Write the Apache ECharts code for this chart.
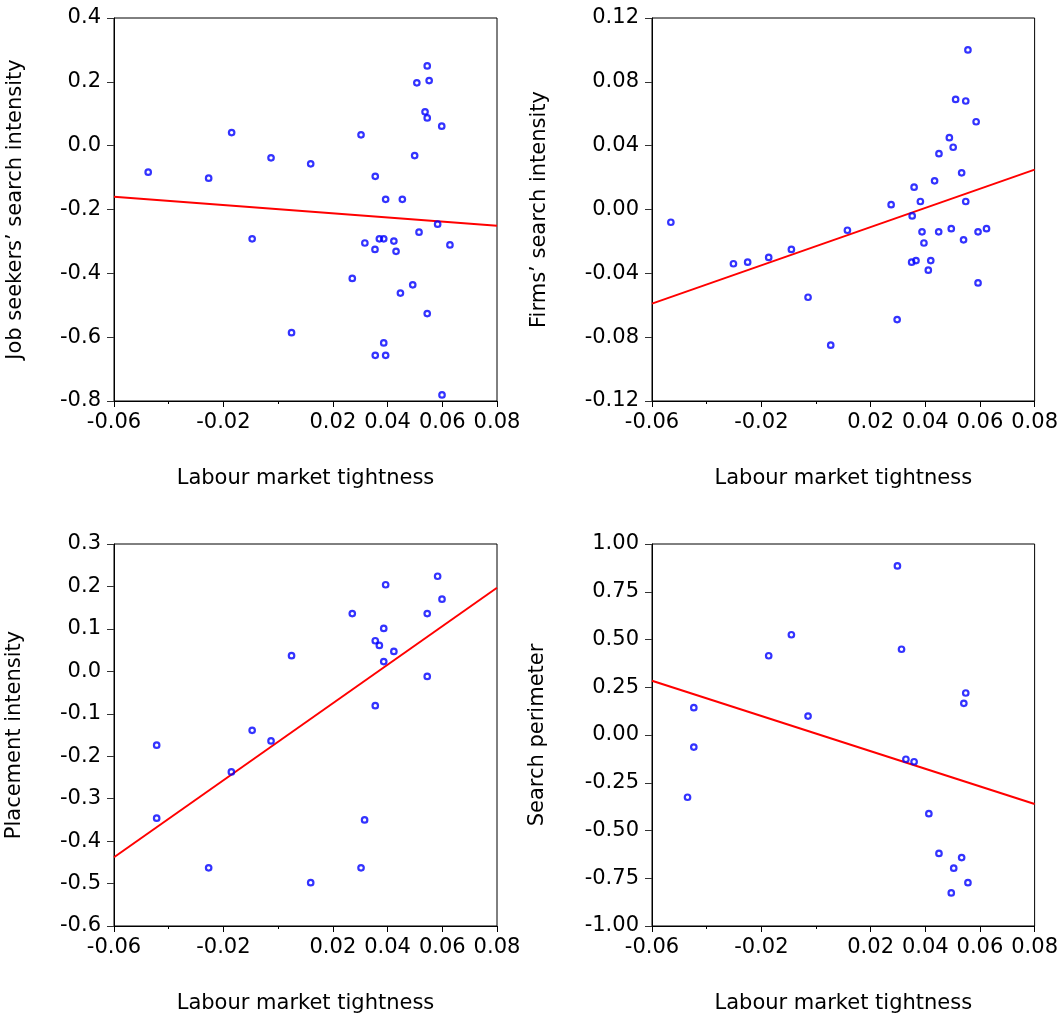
<!DOCTYPE html>
<html>
<head>
<meta charset="utf-8">
<script src="https://cdn.jsdelivr.net/npm/echarts@6/dist/echarts.min.js"></script>
<style>
html,body{margin:0;padding:0;background:#fff;}
#chart{width:1061px;height:1020px;}
</style>
</head>
<body>
<div id="chart"></div>
<script>
// ---- data ----
const xTickLabels = [-0.06, -0.02, 0.02, 0.04, 0.06, 0.08];
const xMinorTicks = [-0.04, 0.00];
const xAxisTitle = 'Labour market tightness';

const tlYTicks = [-0.8, -0.6, -0.4, -0.2, 0.0, 0.2, 0.4];
const trYTicks = [-0.12, -0.08, -0.04, 0.00, 0.04, 0.08, 0.12];
const blYTicks = [-0.6, -0.5, -0.4, -0.3, -0.2, -0.1, 0.0, 0.1, 0.2, 0.3];
const brYTicks = [-1.00, -0.75, -0.50, -0.25, 0.00, 0.25, 0.50, 0.75, 1.00];

const tlTitle = 'Job seekers’ search intensity';
const trTitle = 'Firms’ search intensity';
const blTitle = 'Placement intensity';
const brTitle = 'Search perimeter';

const tlX = [-0.0475,-0.0254,-0.0170,-0.0026,0.0119,0.0303,0.0355,0.0393,0.0454,0.0499,0.0507,0.0545,0.0552,0.0537,0.0545,0.0598,-0.0095,0.0583,0.0515,0.0317,0.0370,0.0386,0.0354,0.0423,0.0431,0.0628,0.0271,0.0492,0.0447,0.0545,0.0049,0.0386,0.0355,0.0393,0.0599];
const tlY = [-0.083,-0.102,0.041,-0.038,-0.057,0.034,-0.096,-0.168,-0.168,-0.031,0.197,0.250,0.204,0.106,0.087,0.061,-0.292,-0.246,-0.271,-0.305,-0.292,-0.292,-0.325,-0.299,-0.331,-0.311,-0.416,-0.436,-0.462,-0.526,-0.586,-0.618,-0.657,-0.657,-0.781];

const trX = [0.0556,0.0511,0.0548,0.0586,0.0488,0.0502,0.0450,0.0533,0.0434,0.0359,0.0382,0.0548,0.0275,0.0352,-0.0531,0.0115,-0.0090,-0.0173,-0.0250,-0.0302,0.0388,0.0449,0.0495,0.0540,0.0593,0.0624,0.0395,0.0350,0.0366,0.0420,0.0411,0.0593,-0.0029,0.0297,0.0054];
const trY = [0.100,0.069,0.068,0.055,0.045,0.039,0.035,0.023,0.018,0.014,0.005,0.005,0.003,-0.004,-0.008,-0.013,-0.025,-0.030,-0.033,-0.034,-0.014,-0.014,-0.012,-0.019,-0.014,-0.012,-0.021,-0.033,-0.032,-0.032,-0.038,-0.046,-0.055,-0.069,-0.085];

const blX = [0.0583,0.0393,0.0599,0.0271,0.0545,0.0386,0.0355,0.0370,0.0423,0.0049,0.0386,0.0545,0.0355,-0.0095,-0.0026,-0.0444,-0.0171,-0.0444,0.0316,-0.0254,0.0303,0.0119];
const blY = [0.224,0.204,0.170,0.136,0.136,0.101,0.072,0.061,0.047,0.037,0.023,-0.012,-0.081,-0.139,-0.164,-0.174,-0.237,-0.346,-0.350,-0.463,-0.463,-0.498];

const brX = [0.0298,-0.0090,0.0313,-0.0173,0.0548,0.0541,-0.0447,-0.0029,-0.0447,-0.0470,0.0329,0.0359,0.0413,0.0450,0.0533,0.0504,0.0556,0.0495];
const brY = [0.885,0.525,0.449,0.415,0.220,0.166,0.143,0.099,-0.063,-0.326,-0.127,-0.140,-0.412,-0.620,-0.642,-0.697,-0.773,-0.827];

// fitted regression lines (endpoints at x = -0.06 and x = 0.08)
const tlFitX = [-0.06, 0.08]; const tlFitY = [-0.160, -0.251];
const trFitX = [-0.06, 0.08]; const trFitY = [-0.059, 0.025];
const blFitX = [-0.06, 0.08]; const blFitY = [-0.438, 0.197];
const brFitX = [-0.06, 0.08]; const brFitY = [0.284, -0.361];

// ---- chart ----
const FONT = '"DejaVu Sans", "Liberation Sans", Arial, sans-serif';
const FS = 21;
const zip = (a, b) => a.map((v, i) => [v, b[i]]);

const panels = [
  {grid:{left:114, top:18, width:383, height:383}, yTicks:tlYTicks, dec:1, title:tlTitle, nameGap:88, x:tlX, y:tlY, fx:tlFitX, fy:tlFitY},
  {grid:{left:652, top:18, width:384, height:383}, yTicks:trYTicks, dec:2, title:trTitle, nameGap:102, x:trX, y:trY, fx:trFitX, fy:trFitY},
  {grid:{left:114, top:544, width:383, height:382}, yTicks:blYTicks, dec:1, title:blTitle, nameGap:89, x:blX, y:blY, fx:blFitX, fy:blFitY},
  {grid:{left:652, top:544, width:384, height:382}, yTicks:brYTicks, dec:2, title:brTitle, nameGap:104, x:brX, y:brY, fx:brFitX, fy:brFitY}
];

const option = {
  animation: false,
  backgroundColor: '#fff',
  textStyle: {fontFamily: FONT},
  grid: [], xAxis: [], yAxis: [], series: []
};

panels.forEach((p, i) => {
  option.grid.push(Object.assign({show:true, borderColor:'#000', borderWidth:1, containLabel:false}, p.grid));
  const xmin = xTickLabels[0], xmax = xTickLabels[xTickLabels.length - 1];
  option.xAxis.push({
    type:'value', gridIndex:i, min:xmin, max:xmax, interval:0.02, position:'bottom',
    axisLine:{show:true, onZero:false, lineStyle:{color:'#000', width:1}},
    axisTick:{show:true, length:6, customValues:xTickLabels, lineStyle:{color:'#000'}},
    axisLabel:{customValues:xTickLabels, formatter:v => v.toFixed(2), fontSize:FS, color:'#000', margin:11, fontFamily:FONT},
    splitLine:{show:false},
    name:xAxisTitle, nameLocation:'middle', nameGap:67,
    nameTextStyle:{fontSize:FS, color:'#000', fontFamily:FONT}
  });
  option.xAxis.push({
    type:'value', gridIndex:i, min:xmin, max:xmax, position:'bottom', offset:0,
    axisLine:{show:false, onZero:false},
    axisTick:{show:true, length:3, customValues:xMinorTicks, lineStyle:{color:'#000'}},
    axisLabel:{show:false}, splitLine:{show:false}
  });
  const yt = p.yTicks;
  option.yAxis.push({
    type:'value', gridIndex:i, min:yt[0], max:yt[yt.length-1], interval:+(yt[1]-yt[0]).toFixed(4),
    axisLine:{show:true, onZero:false, lineStyle:{color:'#000', width:1}},
    axisTick:{show:true, length:7, lineStyle:{color:'#333'}},
    axisLabel:{formatter:v => v.toFixed(p.dec), fontSize:FS, color:'#000', margin:13, fontFamily:FONT},
    splitLine:{show:false},
    name:p.title, nameLocation:'middle', nameRotate:90, nameGap:p.nameGap,
    nameTextStyle:{fontSize:FS, color:'#000', fontFamily:FONT}
  });
  option.series.push({
    type:'line', xAxisIndex:2*i, yAxisIndex:i, data:zip(p.fx, p.fy),
    symbol:'none', lineStyle:{color:'#ff0000', width:2}, z:2, silent:true
  });
  option.series.push({
    type:'scatter', xAxisIndex:2*i, yAxisIndex:i, data:zip(p.x, p.y),
    symbol:'circle', symbolSize:5.5,
    itemStyle:{color:'rgba(255,255,255,0)', borderColor:'#0000ff', borderWidth:2.2}, z:3
  });
});

const chart = echarts.init(document.getElementById('chart'), null, {renderer:'canvas'});
chart.setOption(option);
</script>
</body>
</html>
